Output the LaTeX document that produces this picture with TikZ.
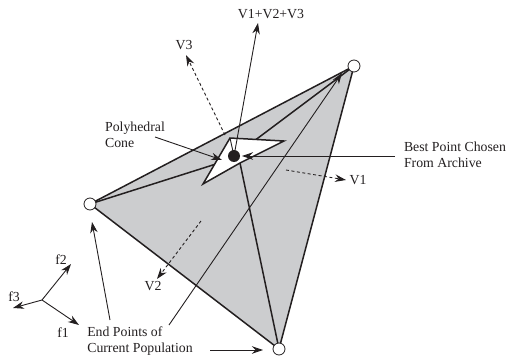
\documentclass[tikz,border=0pt]{standalone}
\usepackage{fontspec}
\setmainfont{Liberation Serif}
\usetikzlibrary{arrows.meta}
\definecolor{conegray}{RGB}{204, 205, 207}
\definecolor{inkline}{RGB}{35, 31, 32}

\begin{document}
\begin{tikzpicture}[
    x=1pt, y=-1pt,
    lbl/.style={font=\fontsize{13.8}{16}\selectfont, text=inkline, inner sep=0pt, align=left},
    ptr/.style={-{Stealth[length=11pt, width=7.5pt]}, inkline, line width=0.9pt},
    dashptr/.style={ptr, dash pattern=on 3pt off 2.5pt},
    edge/.style={inkline, line width=1.5pt},
    endpt/.style={circle, draw=inkline, fill=white, line width=0.8pt, inner sep=0pt, minimum size=12pt}
]
\useasboundingbox (0,0) rectangle (507,359);

% === Points ===
\coordinate (top) at (354,66);
\coordinate (left) at (90,204);
\coordinate (bottom) at (279,349);
\coordinate (conetop) at (230,138);
\coordinate (coneright) at (284,141);
\coordinate (coneleft) at (203,184);
\coordinate (coneknee) at (240,163);
\coordinate (best) at (234,156);

% === Surface ===
\fill[conegray] (top) -- (left) -- (bottom) -- cycle;
\draw[edge] (top) -- (left) -- (bottom) -- (top);
\draw[edge] (top) -- (254,141);
\draw[edge] (left) -- (216,164);
\draw[edge] (bottom) -- (coneknee);

% === Cone ===
\draw[edge, fill=white, line join=miter] (conetop) -- (coneright) -- (coneknee) -- (coneleft) -- cycle;
\draw[inkline, line width=0.9pt] (conetop) -- (best);
\fill[inkline] (best) circle (6pt);

% === End points ===
\node[endpt] (ptop) at (top) {};
\node[endpt] (pleft) at (left) {};
\node[endpt] (pbottom) at (bottom) {};

% === Labels ===
\node[lbl] (sum) at (271,14) {V1+V2+V3};
\node[lbl] (v3) at (184,45) {V3};
\node[lbl] (v1) at (358,180) {V1};
\node[lbl] (v2) at (153,286) {V2};
\node[lbl] (cone) at (135,135) {Polyhedral\\Cone};
\node[lbl] (bestlbl) at (455,155) {Best Point Chosen\\From Archive};
\node[lbl] (ends) at (140,341) {End Points of\\Current Population};
\node[lbl] (f1) at (63,333) {f1};
\node[lbl] (f2) at (61,260) {f2};
\node[lbl] (f3) at (14,297) {f3};
\coordinate (axes) at (42,300);
\coordinate (sumtip) at (258,23);
\coordinate (v3tip) at (186,55);
\coordinate (v1tip) at (346,180);
\coordinate (v2tip) at (157,279);
\coordinate (v3foot) at (225,135);
\coordinate (v1foot) at (286,170);
\coordinate (v2foot) at (201,221);
\coordinate (conefoot) at (155,137);
\coordinate (endsleft) at (110,320);
\coordinate (endsright) at (169,325);
\coordinate (endslow) at (210,350);
\coordinate (bestfoot) at (395,156);

% === Arrows ===
\draw[ptr] (best) -- (sumtip);
\draw[dashptr] (v3foot) -- (v3tip);
\draw[dashptr] (v1foot) -- (v1tip);
\draw[dashptr] (v2foot) -- (v2tip);
\draw[ptr] (conefoot) -- (222,160);
\draw[ptr] (bestfoot) -- (242,156);
\draw[ptr] (endsleft) -- (92,222);
\draw[ptr] (endsright) -- (342,73);
\draw[ptr] (endslow) -- (263,350);
\draw[ptr] (axes) -- (79,325);
\draw[ptr] (axes) -- (71,264);
\draw[ptr] (axes) -- (13,308);

\end{tikzpicture}
\end{document}
